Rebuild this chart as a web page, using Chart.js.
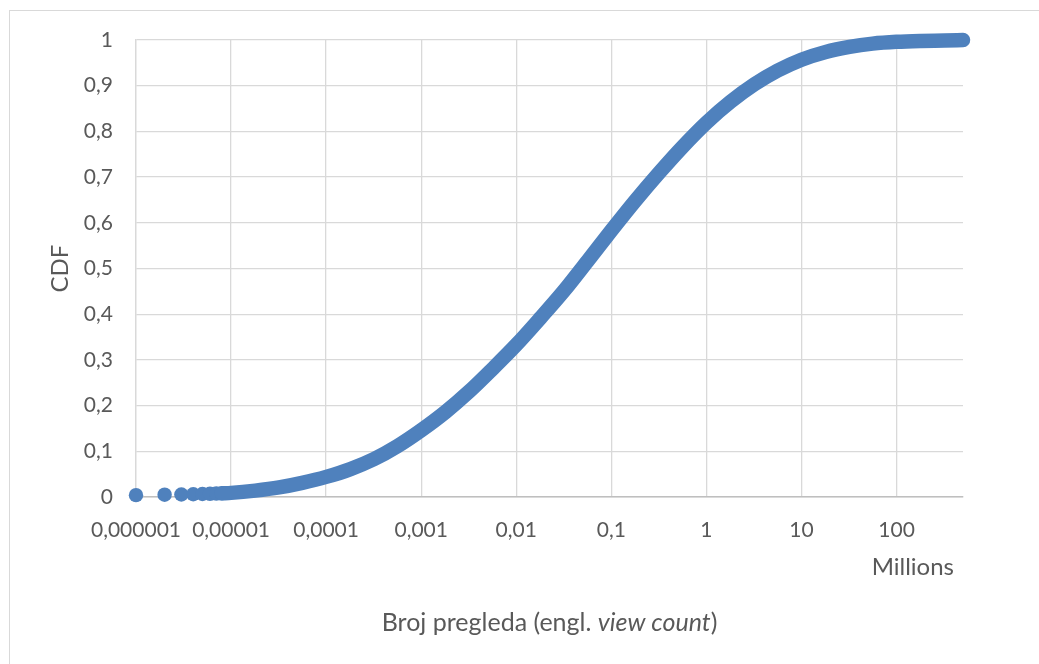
<!DOCTYPE html>
<html>
<head>
<meta charset="utf-8">
<script src="https://cdn.jsdelivr.net/npm/chart.js@4/dist/chart.umd.min.js"></script>
<style>
    body { margin: 0; background: #ffffff; }
    #frame { position: absolute; left: 9px; top: 10px; width: 1100px; height: 700px; border: 1px solid #d9d9d9; }
    #cdf_chart { position: absolute; left: 0; top: 0; }
</style>
</head>
<body>
<div id="frame"></div>
<canvas id="cdf_chart" width="1039" height="664"></canvas>
<script>
// x in millions of views, y = CDF
// the first few videos (1..8 views) show up as separate dots
var earlyViews = [0.000001, 0.000002, 0.000003, 0.000004, 0.000005, 0.000006, 0.000007, 0.000008];
var earlyCdf = [0.004, 0.005, 0.0055, 0.006, 0.0065, 0.007, 0.0075, 0.008];

// after that the markers merge into one thick band
var curveViews = [0.000008, 0.00001, 0.000018, 0.000032, 0.000056, 0.0001, 0.00018, 0.00032, 0.00056,
    0.001, 0.0018, 0.0032, 0.0056, 0.01, 0.018, 0.032, 0.056, 0.1, 0.18, 0.32, 0.56,
    1, 1.8, 3.2, 5.6, 10, 18, 32, 56, 100, 180, 320, 500];
var curveCdf = [0.008, 0.009, 0.014, 0.021, 0.031, 0.044, 0.061, 0.083, 0.111,
    0.146, 0.186, 0.231, 0.28, 0.333, 0.392, 0.452, 0.516, 0.583, 0.649, 0.71, 0.766,
    0.819, 0.865, 0.903, 0.933, 0.957, 0.974, 0.985, 0.992, 0.996, 0.998, 0.999, 1.0];

var xTickValues = [0.000001, 0.00001, 0.0001, 0.001, 0.01, 0.1, 1, 10, 100];
var xTickLabels = ["0,000001", "0,00001", "0,0001", "0,001", "0,01", "0,1", "1", "10", "100"];
var yTickLabels = ["0", "0,1", "0,2", "0,3", "0,4", "0,5", "0,6", "0,7", "0,8", "0,9", "1"];

var yTitle = "CDF";
var unitLabel = "Millions";
var xTitleParts = [["Broj pregleda (engl. ", false], ["view count", true], [")", false]];

var blue = "#4f81bd";
var textColor = "#595959";
var gridColor = "#d9d9d9";
var fontName = "Lato";

function to_points(xs, ys) {
    var pts = [];
    for (var i = 0; i < xs.length; i += 1) {
        pts.push({x: xs[i], y: ys[i]});
    }
    return pts;
}

var textPlugin = {
    id: "textPlugin",
    afterDraw: function (chart) {
        var ctx = chart.ctx;
        var area = chart.chartArea;
        ctx.save();
        ctx.fillStyle = textColor;
        ctx.textBaseline = "middle";
        ctx.font = "24px " + fontName;

        // y title, rotated
        ctx.save();
        ctx.translate(area.left - 76, (area.top + area.bottom) / 2);
        ctx.rotate(-Math.PI / 2);
        ctx.textAlign = "center";
        ctx.fillText(yTitle, 0, 0);
        ctx.restore();

        // display units label
        ctx.textAlign = "right";
        ctx.fillText(unitLabel, area.right - 9, area.bottom + 70);

        // x title, part of it in italics
        var total = 0;
        var i;
        for (i = 0; i < xTitleParts.length; i += 1) {
            ctx.font = (xTitleParts[i][1] ? "italic " : "") + "25px " + fontName;
            total += ctx.measureText(xTitleParts[i][0]).width;
        }
        var x = (area.left + area.right) / 2 - total / 2;
        ctx.textAlign = "left";
        for (i = 0; i < xTitleParts.length; i += 1) {
            ctx.font = (xTitleParts[i][1] ? "italic " : "") + "25px " + fontName;
            ctx.fillText(xTitleParts[i][0], x, area.bottom + 126);
            x += ctx.measureText(xTitleParts[i][0]).width;
        }
        ctx.restore();
    }
};

function create_chart() {
    var ctx = document.getElementById("cdf_chart");
    var myChart = new Chart(ctx, {
        type: "scatter",
        data: {
            datasets: [
                {
                    label: "CDF",
                    data: to_points(curveViews, curveCdf),
                    showLine: true,
                    clip: false,
                    borderColor: blue,
                    borderWidth: 14.5,
                    borderCapStyle: "round",
                    borderJoinStyle: "round",
                    cubicInterpolationMode: "monotone",
                    pointRadius: 0,
                    pointHoverRadius: 0
                },
                {
                    label: "CDF first",
                    data: to_points(earlyViews, earlyCdf),
                    showLine: false,
                    clip: false,
                    pointRadius: 7.2,
                    pointBackgroundColor: blue,
                    pointBorderColor: blue,
                    pointBorderWidth: 0
                }
            ]
        },
        options: {
            responsive: false,
            animation: false,
            layout: {
                padding: {left: 0, top: 40, right: 76, bottom: 0}
            },
            plugins: {
                legend: {display: false},
                tooltip: {enabled: false}
            },
            scales: {
                x: {
                    type: "logarithmic",
                    min: 0.000001,
                    max: 500,
                    afterBuildTicks: function (scale) {
                        scale.ticks = xTickValues.map(function (v) { return {value: v}; });
                    },
                    afterFit: function (scale) {
                        scale.height = 167;
                    },
                    ticks: {
                        autoSkip: false,
                        maxRotation: 0,
                        padding: 21,
                        color: textColor,
                        font: {family: fontName, size: 21},
                        callback: function (value, index) {
                            return xTickLabels[index];
                        }
                    },
                    grid: {color: gridColor, lineWidth: 1.3, drawTicks: false},
                    border: {color: "#bfbfbf", width: 1.5}
                },
                y: {
                    min: 0,
                    max: 1,
                    afterFit: function (scale) {
                        scale.width = 136;
                    },
                    ticks: {
                        stepSize: 0.1,
                        padding: 23,
                        color: textColor,
                        font: {family: fontName, size: 21},
                        callback: function (value, index) {
                            return yTickLabels[index];
                        }
                    },
                    grid: {color: gridColor, lineWidth: 1.3, drawTicks: false},
                    border: {color: gridColor, width: 1.3}
                }
            }
        },
        plugins: [textPlugin]
    });
}

create_chart();
</script>
</body>
</html>
